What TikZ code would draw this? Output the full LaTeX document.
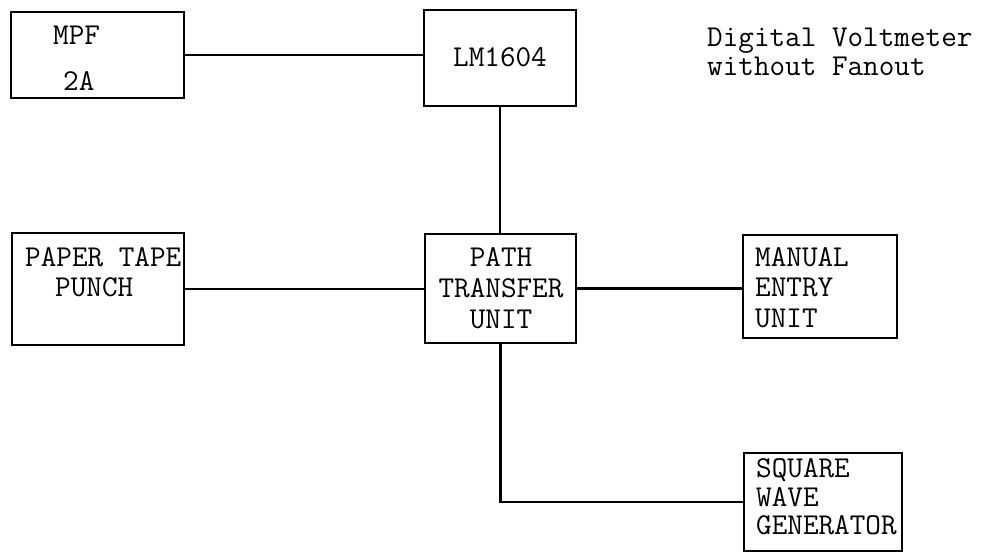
\documentclass[tikz,border=0pt]{standalone}
\usepackage{fontspec}
\newcommand{\typew}{\fontsize{30.3}{30}\selectfont\ttfamily}
\begin{document}
\begin{tikzpicture}[x=1pt,y=-1pt,
  box/.style={draw,line width=2.2pt,rectangle,inner sep=0pt},
  txt/.style={inner sep=0pt,font=\typew,anchor=base west},
  wire/.style={line width=2.2pt}]
\useasboundingbox[fill=white] (0,0) rectangle (989,554);
% boxes
\node[box,minimum width=173pt,minimum height=86pt] (mpf) at (97.5,55) {};
\node[box,minimum width=152pt,minimum height=96pt] (lm) at (500,58) {};
\node[box,minimum width=172pt,minimum height=112pt] (ppt) at (98,289) {};
\node[box,minimum width=151pt,minimum height=109pt] (ptu) at (500.5,288.5) {};
\node[box,minimum width=154pt,minimum height=103pt] (man) at (820,286.5) {};
\node[box,minimum width=158pt,minimum height=98pt] (sq) at (823,502) {};
% texts
\node[txt] (mpf1) at (53,45) {MPF};
\node[txt] (mpf2) at (63,90) {2A};
\node[txt] (lm1) at (453,66) {LM1604};
\node[txt] (dv1) at (707,46) {Digital Voltmeter};
\node[txt] (dv2) at (707,75) {without Fanout};
\node[txt] (ppt1) at (25,266) {PAPER TAPE};
\node[txt] (ppt2) at (55,296) {PUNCH};
\node[txt,anchor=base] (ptu1) at (501,266) {PATH};
\node[txt,anchor=base] (ptu2) at (501,297) {TRANSFER};
\node[txt,anchor=base] (ptu3) at (501,328) {UNIT};
\node[txt] (man1) at (755,266) {MANUAL};
\node[txt] (man2) at (755,296) {ENTRY};
\node[txt] (man3) at (755,327) {UNIT};
\node[txt] (sq1) at (756,477) {SQUARE};
\node[txt] (sq2) at (756,506) {WAVE};
\node[txt] (sq3) at (756,534) {GENERATOR};
% connectors
\draw[wire] (mpf.east) -- (mpf.east -| lm.west);
\draw[wire] (lm.south) -- (lm.south |- ptu.north);
\draw[wire] (ppt.east) -- (ppt.east -| ptu.west);
\draw[wire] (ptu.east) -- (ptu.east -| man.west);
\draw[wire] (ptu.south) |- (sq.west);
\end{tikzpicture}
\end{document}
